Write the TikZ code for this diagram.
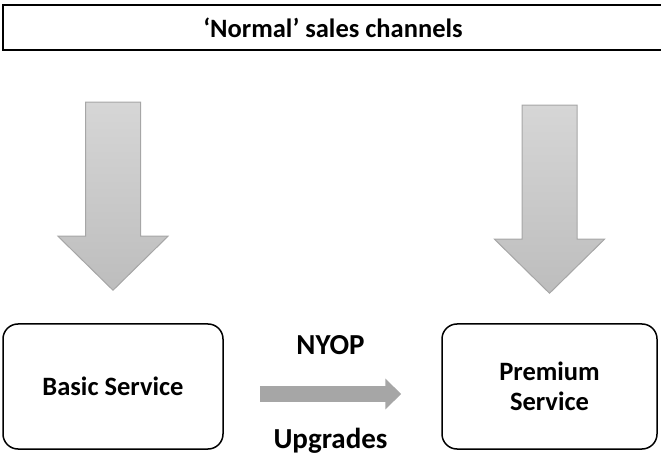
\documentclass[tikz,border=0pt]{standalone}
\usepackage{fontspec}
\setmainfont{Carlito}
\usetikzlibrary{arrows.meta, positioning, calc}
\definecolor{arrowgray}{RGB}{166, 166, 166}
\definecolor{shadetop}{RGB}{214, 214, 214}
\definecolor{shadebottom}{RGB}{189, 189, 189}

\begin{document}
\begin{tikzpicture}[x=1pt, y=1pt,
    channel/.style={draw, line width=1.5pt, minimum width=660pt, minimum height=45pt,
                    font=\fontsize{26.5}{30}\selectfont\bfseries},
    service/.style={draw, line width=1.5pt, rounded corners=15pt, minimum width=#1,
                    minimum height=125pt, align=center,
                    font=\fontsize{26.5}{30}\selectfont\bfseries},
    feed/.style={draw=arrowgray, line width=1pt, top color=shadetop, bottom color=shadebottom},
    upgrade/.style={draw=arrowgray, line width=16pt, -{Triangle[length=16pt, width=30pt]}},
    offer/.style={font=\fontsize{29}{34}\selectfont\bfseries, anchor=base}
]
    \useasboundingbox (0,0) rectangle (661,455);

    \node[channel] (normal) at (333,427.5) {`Normal' sales channels};

    \node[service=220pt] (basic) at (113,68.5) {Basic Service};
    \node[service=215pt] (premium) at (549.5,68.5) {Premium\\Service};

    % big shaded arrows down into both services
    \path[feed] ([yshift=33pt]basic.north) -- ++(-55,54) -- ++(27.5,0) -- ++(0,134)
        -- ++(55,0) -- ++(0,-134) -- ++(27.5,0) -- cycle;
    \path[feed] ([yshift=30pt]premium.north) -- ++(-55,54) -- ++(27.5,0) -- ++(0,134)
        -- ++(55,0) -- ++(0,-134) -- ++(27.5,0) -- cycle;

    \draw[upgrade] ([xshift=36pt, yshift=-7.5pt]basic.east) -- ([xshift=-40pt, yshift=-7.5pt]premium.west)
        node[offer, midway, yshift=39pt] (nyop) {NYOP}
        node[offer, midway, yshift=-54pt] (upgrades) {Upgrades};
\end{tikzpicture}
\end{document}
